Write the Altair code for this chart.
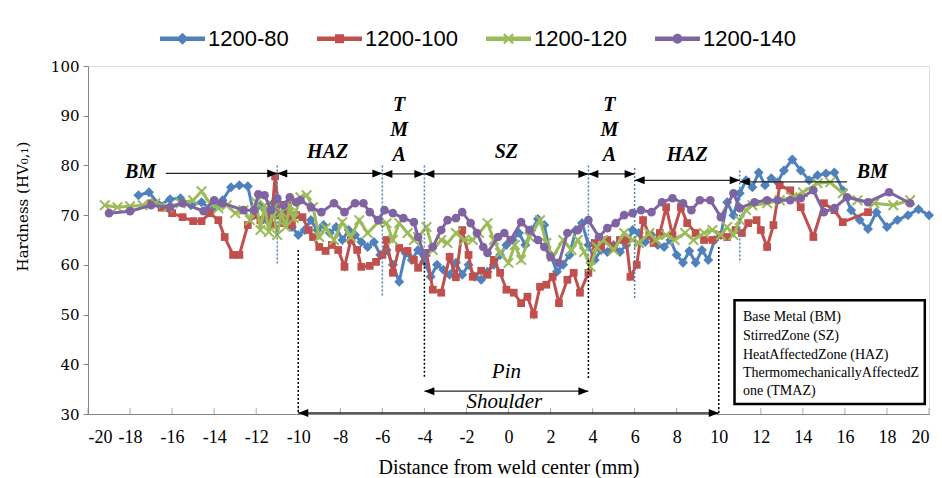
import altair as alt
import pandas as pd

# ---------------- data ----------------
series_names = ["1200-80", "1200-100", "1200-120", "1200-140"]
series_colors = ["#4F81BD", "#C0504D", "#9BBB59", "#8064A2"]

s80 = [(-17.6,74.0),(-17.1,74.6),(-16.6,72.0),(-16.1,73.2),(-15.6,73.4),(-15.1,72.0),(-14.6,72.6),(-14.1,71.0),
       (-13.6,73.0),(-13.2,75.6),(-12.8,76.0),(-12.4,75.8),(-12.1,70.0),(-11.8,72.0),(-11.5,69.0),(-11.2,72.4),
       (-10.9,70.0),(-10.6,71.0),(-10.3,67.6),(-10.0,66.0),(-9.7,67.0),(-9.4,69.0),(-9.1,67.0),(-8.8,68.0),
       (-8.5,66.4),(-8.2,67.6),(-7.9,65.0),(-7.6,67.0),(-7.3,66.0),(-7.0,64.6),(-6.7,63.6),(-6.4,64.6),
       (-6.1,62.0),(-5.8,63.0),(-5.5,60.0),(-5.2,56.6),(-4.9,62.4),(-4.6,61.0),(-4.3,63.0),(-4.0,60.6),
       (-3.7,57.6),(-3.4,60.0),(-3.1,59.0),(-2.8,58.0),(-2.5,60.4),(-2.2,58.0),(-1.9,60.0),(-1.6,57.6),
       (-1.3,57.0),(-1.0,58.6),(-0.7,60.0),(-0.4,62.0),(-0.1,64.0),(0.2,65.0),(0.5,66.4),(0.8,64.0),
       (1.1,67.0),(1.4,69.2),(1.7,68.0),(2.0,62.0),(2.3,58.6),(2.6,60.0),(2.9,62.0),(3.2,67.0),(3.5,68.4),
       (3.8,64.0),(4.1,61.0),(4.4,63.0),(4.7,62.6),(5.0,64.0),(5.3,62.6),(5.6,64.0),(5.9,67.0),(6.2,66.4),
       (6.5,64.6),(6.8,66.0),(7.1,64.0),(7.4,63.6),(7.7,65.0),(8.0,62.0),(8.3,60.4),(8.6,62.8),(8.9,60.4),
       (9.2,63.0),(9.5,61.0),(9.8,65.0),(10.1,66.0),(10.4,72.6),(10.7,70.0),(11.0,74.4),(11.3,77.0),
       (11.6,75.6),(11.9,78.6),(12.2,76.0),(12.5,77.4),(12.8,76.6),(13.1,79.0),(13.5,81.2),(13.9,79.0),
       (14.3,77.0),(14.7,78.0),(15.1,78.4),(15.5,78.6),(15.9,75.0),(16.3,71.0),(16.7,69.0),(17.1,67.2),
       (17.5,70.6),(18.0,67.6),(18.5,69.0),(19.0,70.0),(19.5,71.2),(20.0,70.0)]

s100 = [(-17.0,72.4),(-16.5,71.5),(-16.0,70.4),(-15.5,69.6),(-15.0,68.8),(-14.6,68.8),(-14.2,70.4),(-13.8,69.0),
        (-13.5,65.6),(-13.1,62.0),(-12.8,62.0),(-12.4,68.0),(-12.1,70.0),(-11.8,69.0),(-11.5,71.0),(-11.3,68.0),
        (-11.1,77.8),(-10.9,70.0),(-10.7,68.4),(-10.5,72.0),(-10.3,68.0),(-10.1,70.0),(-9.8,69.6),(-9.5,67.0),
        (-9.3,65.6),(-9.0,63.6),(-8.7,62.8),(-8.4,64.0),(-8.1,63.0),(-7.8,59.6),(-7.5,65.0),(-7.2,63.0),
        (-7.0,59.6),(-6.6,59.8),(-6.3,60.6),(-6.0,62.0),(-5.8,65.0),(-5.5,58.4),(-5.2,63.4),(-4.8,62.8),
        (-4.5,61.0),(-4.3,59.4),(-3.9,62.4),(-3.6,55.0),(-3.2,54.4),(-2.8,61.6),(-2.5,57.5),(-2.2,67.0),
        (-1.9,62.0),(-1.7,57.6),(-1.3,58.8),(-1.0,58.0),(-0.7,61.0),(-0.4,58.4),(-0.1,55.0),(0.25,54.4),
        (0.6,52.3),(0.9,53.6),(1.2,50.0),(1.5,55.6),(1.8,56.0),(2.1,57.6),(2.4,52.3),(2.8,57.0),(3.1,58.4),
        (3.4,54.4),(3.8,58.4),(4.1,64.4),(4.4,63.6),(4.7,65.0),(5.0,63.6),(5.3,65.0),(5.6,65.0),(5.8,57.6),
        (6.1,60.0),(6.4,69.0),(6.7,66.0),(6.9,64.4),(7.2,66.4),(7.5,71.6),(7.8,66.0),(8.2,71.6),(8.5,68.4),
        (8.9,66.4),(9.3,65.0),(9.7,65.0),(10.1,66.0),(10.4,65.6),(10.8,67.0),(11.1,66.4),(11.4,68.4),
        (11.8,69.0),(12.0,67.0),(12.3,63.6),(12.6,68.0),(12.9,76.0),(13.4,75.0),(13.9,71.6),(14.5,65.6),
        (15.0,72.4),(15.5,71.0),(15.9,68.6),(17.1,70.6)]

s120 = [(-19.2,72.0),(-18.6,71.6),(-18.0,71.8),(-17.4,72.0),(-16.8,72.4),(-16.2,71.6),(-15.6,72.4),(-15.0,73.0),
        (-14.6,74.8),(-14.2,72.4),(-13.8,71.4),(-13.4,72.0),(-13.0,70.4),(-12.6,71.0),(-12.3,69.0),(-12.0,72.6),
        (-11.8,67.0),(-11.6,72.0),(-11.4,66.6),(-11.2,71.4),(-11.0,66.0),(-10.8,70.6),(-10.6,67.6),(-10.4,72.0),
        (-10.2,69.4),(-9.9,73.6),(-9.6,74.0),(-9.3,71.6),(-9.0,65.6),(-8.7,67.4),(-8.3,65.0),(-7.9,68.6),
        (-7.5,65.6),(-7.1,69.0),(-6.7,66.4),(-6.2,68.6),(-5.8,68.4),(-5.5,65.0),(-5.2,68.4),(-4.8,66.4),
        (-4.5,65.0),(-4.3,65.6),(-3.9,67.6),(-3.6,63.0),(-3.2,65.0),(-2.9,64.4),(-2.5,66.4),(-2.1,65.0),
        (-1.7,65.0),(-1.4,66.4),(-1.0,68.4),(-0.7,65.0),(-0.4,62.4),(0.0,60.4),(0.3,64.0),(0.6,61.0),
        (1.0,65.6),(1.5,69.0),(1.8,64.4),(2.1,61.6),(2.6,65.0),(3.0,63.0),(3.3,65.0),(3.6,62.6),(3.9,59.6),
        (4.2,63.6),(4.5,65.0),(5.0,63.0),(5.5,66.4),(5.9,65.0),(6.2,64.4),(6.7,66.4),(7.0,65.0),(7.5,66.0),
        (7.9,65.0),(8.4,66.4),(8.8,65.0),(9.3,66.4),(9.7,67.0),(10.1,66.0),(10.4,67.6),(10.7,66.0),
        (11.0,69.0),(11.3,71.0),(11.6,72.0),(12.3,72.4),(12.9,73.0),(13.5,73.6),(14.0,74.6),(14.7,76.4),
        (15.3,76.6),(15.9,74.4),(16.6,73.0),(17.4,72.4),(18.3,72.0),(19.1,73.0)]

s140 = [(-19.0,70.4),(-18.0,70.8),(-17.0,72.0),(-16.1,71.6),(-15.5,72.4),(-14.5,70.8),(-14.0,73.0),(-13.6,72.4),
        (-12.6,71.0),(-12.1,71.0),(-11.9,74.2),(-11.6,74.0),(-11.3,71.0),(-11.0,73.4),(-10.7,72.0),(-10.4,73.6),
        (-10.1,72.6),(-9.9,73.0),(-9.4,71.6),(-8.9,70.6),(-8.3,72.4),(-7.8,70.6),(-7.3,72.4),(-6.9,72.4),
        (-6.6,70.6),(-6.2,69.0),(-5.9,71.0),(-5.5,70.4),(-5.0,69.4),(-4.5,68.6),(-4.3,65.6),(-4.0,62.0),
        (-3.6,63.6),(-3.2,67.0),(-2.9,69.0),(-2.5,69.4),(-2.2,70.6),(-1.8,68.4),(-1.5,66.4),(-1.2,63.6),
        (-1.0,62.4),(-0.5,65.6),(-0.2,66.4),(0.1,65.0),(0.6,68.6),(1.0,67.0),(1.4,65.0),(1.7,63.6),(2.0,61.6),
        (2.4,60.4),(2.8,66.4),(3.3,67.0),(3.8,69.0),(4.3,65.6),(4.7,67.4),(5.1,68.4),(5.5,70.0),(5.9,70.4),
        (6.3,71.0),(6.8,70.6),(7.3,72.6),(7.8,73.4),(8.3,72.4),(8.7,71.0),(9.1,73.0),(9.6,73.0),(10.1,69.6),
        (10.7,74.4),(11.0,71.4),(11.7,72.6),(12.3,73.0),(12.8,73.0),(13.4,73.0),(13.9,73.4),(14.5,75.0),
        (15.0,70.6),(15.5,71.4),(16.1,73.6),(17.1,72.6),(18.1,74.6),(19.1,72.4)]

x_ticks = list(range(-20, 21, 2))
y_ticks = list(range(30, 101, 10))

# zone annotations (data coordinates)
zone_arrows = [(-16.3, -11.0, 78.4), (-11.0, -6.0, 78.4), (-6.0, -4.0, 78.3), (-4.0, 3.8, 78.3),
               (3.8, 6.0, 78.3), (6.0, 11.0, 77.0), (11.0, 16.1, 76.7), (-4.0, 3.8, 34.6), (-10.0, 10.0, 30.2)]
arrow_heads = [(-11.0, 78.4, "right"), (-11.0, 78.4, "left"), (-6.0, 78.4, "right"), (-6.0, 78.3, "left"),
               (-4.0, 78.3, "right"), (-4.0, 78.3, "left"), (3.8, 78.3, "right"), (3.8, 78.3, "left"),
               (6.0, 78.3, "right"), (6.0, 77.0, "left"), (11.0, 77.0, "right"), (11.0, 76.7, "left"),
               (-4.0, 34.6, "left"), (3.8, 34.6, "right"), (-10.0, 30.2, "left"), (10.0, 30.2, "right")]
zone_lines = [(-11.0, 80.0, 60.0), (-6.0, 80.0, 53.5), (-4.0, 80.0, 60.4),
              (3.8, 80.0, 61.0), (6.0, 79.5, 53.0), (11.0, 79.0, 60.4)]
tool_lines = [(-10.0, 63.0, 30.0), (10.0, 63.6, 30.0), (-4.0, 60.4, 37.2), (3.8, 61.0, 37.2)]
zone_labels = [("BM", -17.5, 78.6), ("HAZ", -8.6, 82.7), ("T", -5.2, 92.2), ("M", -5.2, 87.1), ("A", -5.2, 82.1),
               ("SZ", -0.1, 82.7), ("T", 4.8, 92.2), ("M", 4.8, 87.1), ("A", 4.8, 82.1),
               ("HAZ", 8.5, 82.1), ("BM", 17.3, 78.6)]
tool_labels = [("Pin", -0.1, 38.4), ("Shoulder", -0.2, 32.4)]
box_lines = ["Base Metal (BM)", "StirredZone (SZ)", "HeatAffectedZone (HAZ)",
             "ThermomechanicallyAffectedZ", "one (TMAZ)"]
box_line_y = [49.5, 45.7, 41.9, 38.2, 34.6]
box_extent = (10.75, 19.8, 32.0, 52.9)

# ---------------- encodings ----------------
AX_GRAY = "#868686"
xs = alt.Scale(domain=[-20, 20], nice=False, zero=False)
ys = alt.Scale(domain=[30, 100], nice=False, zero=False)
x_axis = alt.Axis(values=x_ticks, ticks=False, grid=False, domainColor=AX_GRAY, labelColor="black",
                  labelExpr="toString(datum.value)",
                  labelFont="Liberation Serif", labelFontSize=18, labelPadding=14,
                  title="Distance from weld center (mm)", titleFont="Liberation Serif",
                  titleFontSize=20, titleFontWeight="normal", titleColor="black", titlePadding=11)
y_axis = alt.Axis(values=y_ticks, grid=False, domainColor=AX_GRAY, tickColor=AX_GRAY, tickSize=5,
                  labelColor="black", labelFont="DejaVu Serif", labelFontSize=15, labelPadding=4,
                  title="Hardness (HV₀,₁)", titleFont="DejaVu Serif", titleFontSize=15,
                  titleFontWeight="normal", titleColor="black", titlePadding=20, titleY=140)

def X(field="x"):
    return alt.X(f"{field}:Q", scale=xs, axis=x_axis)

def Y(field="y"):
    return alt.Y(f"{field}:Q", scale=ys, axis=y_axis)

layers = []

# x ticks drawn inward
tick_df = pd.DataFrame({"x": x_ticks})
layers.append(alt.Chart(tick_df).mark_tick(orient="vertical", size=6, thickness=1, color=AX_GRAY, yOffset=-3)
              .encode(x=X(), y=alt.datum(30)))

# data series
marker_specs = [
    dict(shape="diamond", size=100, filled=True),
    dict(shape="square", size=60, filled=True),
    dict(shape="M-1,-1L1,1M-1,1L1,-1", size=90, filled=False, strokeWidth=2),
    dict(shape="circle", size=75, filled=True),
]
for name, color, pts, ms in zip(series_names, series_colors, [s80, s100, s120, s140], marker_specs):
    df = pd.DataFrame(pts, columns=["x", "y"])
    df["series"] = name
    base = alt.Chart(df)
    line = base.mark_line(color=color, strokeWidth=3).encode(x=X(), y=Y(), order="x:Q")
    pkw = dict(ms)
    pkw["color"] = color
    pkw["opacity"] = 1
    pt = base.mark_point(**pkw).encode(x=X(), y=Y())
    layers += [line, pt]

# blue dotted zone boundaries
zl = pd.DataFrame(zone_lines, columns=["x", "y", "y2"])
layers.append(alt.Chart(zl).mark_rule(color="#4F81BD", strokeDash=[2, 2], strokeWidth=1.5)
              .encode(x=X(), y=Y(), y2="y2:Q"))
tl = pd.DataFrame(tool_lines, columns=["x", "y", "y2"])
layers.append(alt.Chart(tl).mark_rule(color="black", strokeDash=[2, 2], strokeWidth=1.5)
              .encode(x=X(), y=Y(), y2="y2:Q"))

# arrows
ar = pd.DataFrame(zone_arrows, columns=["x", "x2", "y"])
layers.append(alt.Chart(ar).mark_rule(color="#262626", strokeWidth=1.4).encode(x=X(), x2="x2:Q", y=Y()))
ah = pd.DataFrame(arrow_heads, columns=["x", "y", "dir"])
head_paths = {"right": "M0,0L-2,-0.8L-2,0.8Z", "left": "M0,0L2,-0.8L2,0.8Z"}
for d, p in head_paths.items():
    layers.append(alt.Chart(ah[ah["dir"] == d]).mark_point(shape=p, size=100, filled=True, color="black", opacity=1)
                  .encode(x=X(), y=Y()))

# zone labels
zdf = pd.DataFrame(zone_labels, columns=["label", "x", "y"])
layers.append(alt.Chart(zdf).mark_text(font="Liberation Serif", fontSize=20, fontWeight="bold", fontStyle="italic",
                                       color="black", align="center", baseline="middle")
              .encode(x=X(), y=Y(), text="label:N"))
tdf = pd.DataFrame(tool_labels, columns=["label", "x", "y"])
layers.append(alt.Chart(tdf).mark_text(font="Liberation Serif", fontSize=21, fontStyle="italic",
                                       color="black", align="center", baseline="middle")
              .encode(x=X(), y=Y(), text="label:N"))

# info box
bx = pd.DataFrame([dict(x=box_extent[0], x2=box_extent[1], y=box_extent[2], y2=box_extent[3])])
layers.append(alt.Chart(bx).mark_rect(fill="white", stroke="black", strokeWidth=2.5)
              .encode(x=X(), x2="x2:Q", y=Y(), y2="y2:Q"))
bl = pd.DataFrame({"label": box_lines, "y": box_line_y})
bl["x"] = box_extent[0] + 0.4
layers.append(alt.Chart(bl).mark_text(font="Liberation Serif", fontSize=14, color="black",
                                      align="left", baseline="middle")
              .encode(x=X(), y=Y(), text="label:N"))

# legend (symbols: line + marker)
def line_with(marker):
    return "M-1,-0.1L1,-0.1L1,0.1L-1,0.1Z" + marker
legend_paths = [
    line_with("M0,-0.27L0.27,0L0,0.27L-0.27,0Z"),
    line_with("M-0.2,-0.2L0.2,-0.2L0.2,0.2L-0.2,0.2Z"),
    line_with("M-0.24,-0.17L-0.17,-0.24L0,-0.07L0.17,-0.24L0.24,-0.17L0.07,0L0.24,0.17L0.17,0.24L0,0.07L-0.17,0.24L-0.24,0.17L-0.07,0Z"),
    line_with("M-0.22,0A0.22,0.22,0,1,1,0.22,0A0.22,0.22,0,1,1,-0.22,0Z"),
]
leg = dict(orient="none", legendX=72, legendY=-50, direction="horizontal", columns=4, columnPadding=28,
           labelOffset=3, symbolSize=2025, symbolStrokeWidth=0, labelFont="Liberation Sans Narrow, Liberation Sans",
           labelFontSize=22, labelColor="black", padding=0, title=None, symbolOpacity=1)
ldf = pd.DataFrame({"series": series_names})
layers.append(alt.Chart(ldf).mark_point(filled=True, size=2025, opacity=1)
              .encode(x=alt.value(-3000), y=alt.value(-3000),
                      color=alt.Color("series:N", scale=alt.Scale(domain=series_names, range=series_colors),
                                      legend=alt.Legend(**leg)),
                      shape=alt.Shape("series:N", scale=alt.Scale(domain=series_names, range=legend_paths),
                                      legend=alt.Legend(**leg))))

chart = (alt.layer(*layers)
         .properties(width=841, height=348,
                     autosize=alt.AutoSizeParams(type="none"),
                     padding={"left": 80, "top": 58, "right": 5, "bottom": 64})
         .configure_view(stroke=AX_GRAY, strokeWidth=1)
         .configure(background="white"))

chart.save("out.html", embed_options={"renderer": "svg", "actions": False})
